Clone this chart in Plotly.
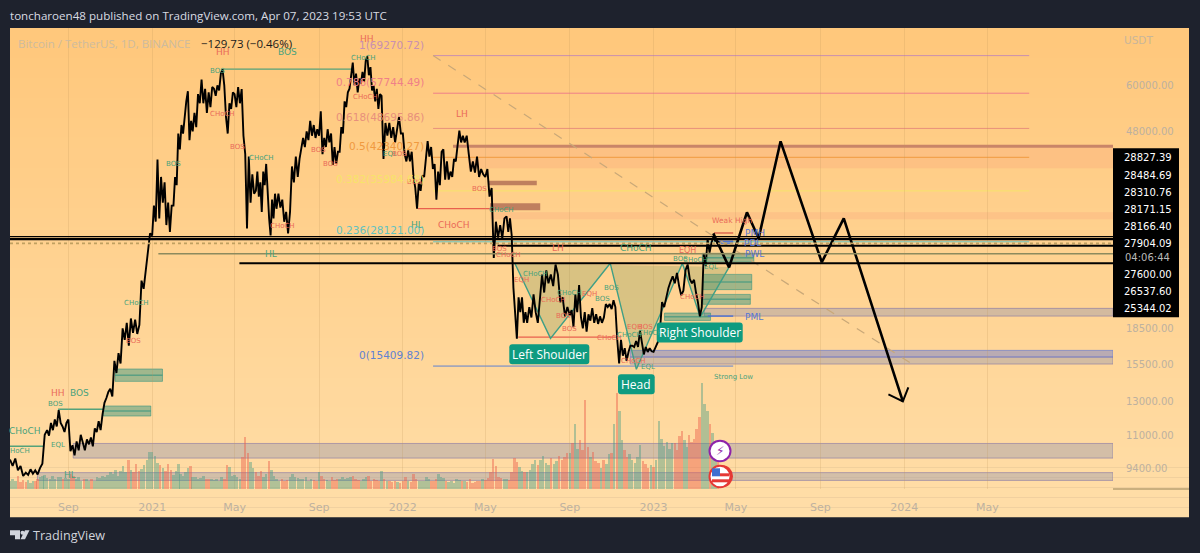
import numpy as np
import pandas as pd
import plotly.graph_objects as go

W, H = 1200, 553
PANEL_L, PANEL_R, PANEL_T, PANEL_B = 10, 1189, 27.7, 517
PLOT_R, PLOT_B = 1113, 488.7

# ---- data ----
chart_start, chart_end = "2020-06-08", "2024-10-31"
y_ticks = [60000, 48000, 18500, 15500, 13000, 11000, 9400]
x_ticks = ["2020-09-01", "2021-01-01", "2021-05-01", "2021-09-01", "2022-01-01", "2022-05-01",
           "2022-09-01", "2023-01-01", "2023-05-01", "2023-09-01", "2024-01-01", "2024-05-01"]
x_tick_text = ["Sep", "2021", "May", "Sep", "2022", "May", "Sep", "2023", "May", "Sep", "2024", "May"]

month_starts = ["2020-06-08", "2020-07-01", "2020-08-01", "2020-09-01", "2020-10-01", "2020-11-01", "2020-12-01",
                "2021-01-01", "2021-02-01", "2021-03-01", "2021-04-01", "2021-05-01", "2021-06-01", "2021-07-01",
                "2021-08-01", "2021-09-01", "2021-10-01", "2021-11-01", "2021-12-01", "2022-01-01", "2022-02-01",
                "2022-03-01", "2022-04-01", "2022-05-01", "2022-06-01", "2022-07-01", "2022-08-01", "2022-09-01",
                "2022-10-01", "2022-11-01", "2022-12-01", "2023-01-01", "2023-02-01", "2023-03-01", "2023-04-01",
                "2023-04-08"]
price_by_month = [
    [9800, 9500, 9850, 9300, 9500, 9050],
    [9200, 9100, 9350, 9150, 9300, 9120, 9400, 9600, 11050],
    [11300, 11000, 11700, 11300, 11900, 11500, 12450, 11700, 11500, 11200, 11700],
    [11900, 10200, 10500, 10000, 10700, 10250, 11050, 10700, 10250, 10800],
    [10550, 10900, 10450, 11400, 11200, 11800, 11300, 12200, 12900, 13200, 13600],
    [13800, 13300, 15800, 14900, 16400, 15600, 18500, 17500, 19000, 17000],
    [19400, 18100, 19300, 18000, 18800, 23300, 22400, 24300, 26500, 29300],
    [29000, 33500, 31000, 41900, 31500, 38500, 34000, 37500, 30500, 34000, 29500, 33500],
    [33500, 38500, 37000, 47500, 44000, 49500, 47500, 52500, 55500, 58300, 46000, 50500],
    [48000, 52500, 49000, 57500, 55000, 61700, 55000, 59000, 52500, 58000, 54000, 59500],
    [59000, 57000, 60000, 58500, 63500, 64800, 60000, 51500, 47500, 55000, 53500, 58000],
    [57500, 54000, 59500, 55000, 58900, 47000, 43000, 30000, 42500, 34000, 39000, 35500],
    [36000, 39500, 35000, 37500, 32500, 39500, 37000, 41000, 34500, 31500, 29000, 34500, 31500, 35500],
    [33000, 35500, 33200, 34500, 31000, 32500, 29300, 32500, 40500, 37500, 42500],
    [38500, 42000, 44500, 46500, 44500, 48000, 46000, 50500, 47000, 49500, 46500, 48500],
    [47000, 52900, 43000, 46500, 44500, 48500, 45500, 47500, 40800, 44500, 41000, 43500],
    [43500, 49000, 47500, 55500, 54000, 58000, 59000, 62500, 67000, 60000, 63500, 58000, 62000],
    [60500, 64000, 61000, 67500, 69000, 63000, 65500, 58500, 60000, 55500, 59000, 53500, 57500],
    [57000, 42000, 50000, 47000, 50000, 46500, 49000, 45500, 48500, 51500, 47500],
    [47500, 43000, 41500, 43800, 41500, 43500, 38500, 36500, 33000, 37500, 36000, 38800],
    [38500, 42000, 45800, 42500, 44500, 40000, 41000, 34500, 39500, 37000, 43500],
    [44000, 38000, 41500, 38000, 39500, 38500, 42000, 41500, 44800, 48200, 45500, 47000],
    [45500, 47000, 43000, 39500, 41500, 39300, 42500, 38500, 40000, 39000],
    [38500, 40000, 35000, 36500, 26000, 31000, 28700, 30500, 28600, 31500],
    [31800, 29500, 31500, 29000, 22500, 20000, 17600, 21500, 20000, 21500, 19000, 20000],
    [19000, 20500, 19500, 21800, 20000, 19000, 21500, 24000, 22000, 24500],
    [23000, 24000, 22700, 25200, 24000, 21000, 21500, 19600, 20500],
    [19700, 20200, 18600, 21800, 20000, 22800, 19500, 18500, 20000, 18200, 19800],
    [19200, 20400, 19000, 19800, 18900, 19600, 19000, 19500, 20800, 20500, 20800],
    [20300, 21200, 20500, 17500, 15600, 17500, 16200, 16800, 15800, 16500, 17000],
    [17000, 16900, 17400, 16900, 18300, 17200, 16300, 16900, 16500, 16800, 16550],
    [16500, 16900, 17300, 18300, 21000, 20500, 21500, 22500, 23200, 23800],
    [23000, 24200, 22700, 21700, 22200, 24500, 25200, 23500, 23000],
    [23400, 22000, 21000, 19600, 20500, 26500, 25000, 28500, 26700, 28000, 28800],
    [28200, 28500, 27900, 28200, 27904],
]
volume_by_month = [
    [55, 70, 60, 95, 50, 65],
    [50, 65, 45, 60, 55, 70, 85, 95, 100],
    [80, 70, 95, 75, 85, 90, 70, 80],
    [75, 105, 95, 70, 85, 60, 75, 70],
    [55, 70, 60, 85, 80, 95, 85, 100],
    [120, 110, 140, 95, 130, 165, 120, 210],
    [140, 120, 180, 130, 145, 170, 210, 265],
    [265, 240, 190, 170, 150, 130, 180, 140],
    [100, 130, 180, 105, 95, 120, 150, 165],
    [85, 90, 75, 80, 95, 70, 75, 70],
    [65, 70, 60, 85, 75, 170, 155, 95],
    [100, 90, 75, 230, 375, 260, 195, 150],
    [120, 95, 130, 85, 110, 200, 135, 95],
    [75, 60, 70, 55, 65, 85, 110, 90],
    [80, 75, 70, 85, 60, 70, 65, 60],
    [120, 95, 70, 65, 60, 85, 65, 70],
    [75, 85, 70, 80, 90, 95, 75, 65],
    [60, 70, 85, 95, 60, 70, 65, 55],
    [130, 75, 60, 55, 50, 60, 50, 45],
    [55, 85, 60, 50, 110, 70, 60, 55],
    [60, 85, 70, 55, 60, 75, 105, 85],
    [80, 55, 50, 60, 45, 70, 65, 55],
    [55, 50, 70, 45, 50, 60, 55, 70],
    [65, 80, 125, 216, 165, 90, 80, 75],
    [70, 65, 120, 220, 195, 160, 130, 120],
    [125, 140, 180, 210, 170, 210, 240, 190],
    [170, 220, 180, 200, 240, 210, 230, 260],
    [260, 330, 470, 290, 350, 280, 640, 300],
    [230, 270, 200, 190, 150, 210, 180, 250],
    [260, 470, 690, 560, 350, 280, 230, 250],
    [210, 190, 230, 320, 200, 180, 150, 170],
    [160, 210, 490, 360, 310, 340, 290, 330],
    [330, 280, 380, 420, 350, 300, 390, 340],
    [360, 430, 520, 760, 610, 560, 470, 400],
    [330, 300],
]

pattern_dates = ["2022-06-13", "2022-08-04", "2022-10-30", "2022-12-07", "2023-02-12", "2023-03-10", "2023-04-21"]
pattern_prices = [25344, 17620, 25344, 15170, 25344, 19530, 24890]
forecast_dates = ["2023-03-29", "2023-04-21", "2023-05-17", "2023-06-03", "2023-07-05", "2023-09-03", "2023-10-05", "2023-12-30"]
forecast_prices = [29300, 24850, 32440, 28600, 45750, 25470, 31510, 12990]
arrow_dates = ["2023-12-09", "2023-12-30", "2024-01-07"]
arrow_prices = [13430, 12990, 13900]
trend_dates = ["2022-02-14", "2024-01-17"]
trend_prices = [69270.72, 15409.82]

fib_prices = [69270.72, 57744.49, 48695.86, 42340.27, 35984.68, 28121.00, 15409.82]
fib_names = ["1", "0.786", "0.618", "0.5", "0.382", "0.236", "0"]
fib_colors = ["#c98fb0", "#ef8088", "#e8907c", "#f09a40", "#f7e36a", "#63c2c0", "#5f82d2"]
fib_ends = ["2024-07-01"] * 6 + ["2023-04-27"]
fib_start = "2022-02-14"

axis_box_values = ["28827.39", "28484.69", "28310.76", "28171.15", "28166.40", "27904.09", "04:06:44", "27600.00", "26537.60", "25344.02"]

gray_zones = [("2020-09-08", 9870, 10594), ("2020-07-18", 8860, 9199), ("2023-03-16", 19630, 20376), ("2022-11-28", 15563, 16097)]
blue_zones = [("2022-11-28", 16097, 16627)]
pink_zones = [("2022-04-06", 40140, 44440), ("2022-05-08", 31360, 32440)]
brown_zones = [("2022-05-05", "2022-07-15", 36970, 37780), ("2022-05-08", "2022-07-20", 32750, 33880)]
green_zones = [("2020-11-08", "2021-01-16", 14310, 15190), ("2020-10-22", "2020-12-30", 12100, 12700),
               ("2023-03-14", "2023-05-24", 22310, 24020), ("2023-03-14", "2023-05-22", 20780, 21800),
               ("2023-01-17", "2023-03-25", 19220, 19920), ("2023-03-13", "2023-05-27", 25500, 26600)]
struct_lines = [("2021-04-13", "2021-10-21", 64900, "#55a27a"), ("2020-08-17", "2020-10-22", 12500, "#55a27a"),
                (chart_start, "2020-07-27", 10450, "#55a27a"), ("2022-01-23", "2022-05-08", 33020, "#e8604e"),
                ("2022-06-18", "2022-11-09", 17730, "#e8604e"), ("2023-03-30", "2023-04-27", 29350, "#d9604e"),
                ("2023-03-21", "2023-04-27", 19630, "#4a6fd0"), ("2023-04-05", "2023-04-27", 28200, "#4a6fd0"),
                ("2023-04-05", "2023-04-27", 27950, "#4a6fd0")]
level_lines = [(chart_start, 28827.39, "#000000", 1.2, "solid"), (chart_start, 28484.69, "#000000", 2.4, "solid"),
               (chart_start, 27904.09, "#c0a060", 1.6, "dot"), ("2022-05-19", 27600.00, "#000000", 2, "solid"),
               ("2021-01-10", 26537.60, "#8c8a5e", 1.6, "solid"), ("2021-05-08", 25344.02, "#000000", 2, "solid")]

RED, GREEN, BLUE = "#ea6a58", "#4aa27c", "#5575d6"
labels = [
    ("HH", 223, 52, RED, 10), ("BOS", 287.5, 52, GREEN, 10), ("HH", 367, 39, RED, 10),
    ("CHoCH", 363, 58, GREEN, 8), ("BOS", 217, 71, GREEN, 8), ("CHoCH", 222, 113.7, RED, 8),
    ("CHoCH", 365, 97, RED, 8), ("LH", 461.7, 113.7, RED, 10), ("BOS", 237, 147, RED, 8),
    ("CHoCH", 261, 158, GREEN, 8), ("BOS", 318, 150, RED, 8), ("BOS", 330, 163.7, RED, 8),
    ("EQL", 390, 154, GREEN, 8), ("BOS", 399, 154, RED, 8), ("BOS", 173, 164, GREEN, 8),
    ("BOS", 414, 182, RED, 8), ("BOS", 479, 188.7, RED, 8), ("CHoCH", 282, 226, RED, 8),
    ("HL", 417, 225, GREEN, 10), ("CHoCH", 454, 225, RED, 10), ("HL", 270.7, 253.7, GREEN, 10),
    ("CHoCH", 136, 303, GREEN, 8), ("BOS", 133, 341, RED, 8), ("HH", 58, 392.5, RED, 10),
    ("BOS", 79, 392.5, GREEN, 10), ("BOS", 55, 403.7, GREEN, 8), ("CHoCH", 25, 430.7, GREEN, 10),
    ("HoCH", 20, 451, GREEN, 8), ("EQL", 58, 445, GREEN, 8), ("HL", 70, 475, GREEN, 10),
    ("CHoCH", 501.7, 210, GREEN, 8), ("BOS", 499, 249, RED, 8), ("CHoCH", 508, 254.7, RED, 8),
    ("LH", 558, 248, RED, 10), ("CHoCH", 636, 248, GREEN, 10), ("EQH", 521, 280, RED, 8),
    ("CHoCH", 535, 274, GREEN, 8), ("CHoCH", 553, 300, RED, 8), ("CHoCH", 569, 293, GREEN, 8),
    ("BOS", 563, 316, RED, 8), ("BOS", 569.7, 328.7, RED, 8), ("EQH", 589, 294, RED, 8),
    ("BOS", 611, 288, GREEN, 8), ("BOS", 602, 299, GREEN, 8), ("CHoCH", 609, 338, RED, 8),
    ("EQH", 634, 327, RED, 8), ("BOS", 645, 327, RED, 8), ("CHoCH", 629, 334.7, GREEN, 8),
    ("CHoCH", 650, 333, GREEN, 8), ("CHoCH", 633, 361, RED, 8), ("EQL", 648, 367, GREEN, 8),
    ("EQH", 687, 250.7, RED, 9), ("BOS", 680, 259, GREEN, 8), ("CHoCH", 695, 260, GREEN, 8),
    ("EQL", 710.7, 266.7, GREEN, 8), ("CHoCH", 692, 297, RED, 8), ("Weak High", 732, 220, RED, 8.5),
    ("PMH", 755, 233, BLUE, 10), ("PDL", 752, 243, BLUE, 10), ("PWL", 754, 253.7, BLUE, 10),
    ("PML", 754, 316.7, BLUE, 10), ("Strong Low", 733, 376.7, GREEN, 8),
]
callouts = [("Left Shoulder", 509.3, 344, 589.3, 364), ("Head", 618, 374, 654.7, 394), ("Right Shoulder", 656.7, 322.3, 742.7, 342.3)]

# ---- build series ----
def spread(blocks):
    xs, ys = [], []
    for i, vals in enumerate(blocks):
        a, b = pd.Timestamp(month_starts[i]), pd.Timestamp(month_starts[i + 1])
        for k, v in enumerate(vals):
            xs.append(a + (b - a) * (k / len(vals)))
            ys.append(v)
    return xs, ys

price_x, price_y = spread(price_by_month)
vol_x, vol_y = spread(volume_by_month)
px_ns = np.array([t.value for t in price_x], dtype=float)
py = np.array(price_y, dtype=float)
vol_colors = []
for t in vol_x:
    i = int(np.clip(np.searchsorted(px_ns, t.value), 2, len(py) - 1))
    vol_colors.append("rgba(70,155,130,0.42)" if py[i] >= py[i - 2] else "rgba(235,95,75,0.45)")

# pixel position in the window -> paper fraction of the plot area
fx = lambda x: (x - PANEL_L) / (PLOT_R - PANEL_L)
fy = lambda y: (PLOT_B - y) / (PLOT_B - PANEL_T)

fig = go.Figure()
vol_axis_max = 7.2 * (PLOT_B - PANEL_T)
fig.add_trace(go.Bar(x=vol_x, y=vol_y, yaxis="y2", marker=dict(color=vol_colors, line_width=0), width=3.6 * 86400000, hoverinfo="skip"))
fig.add_trace(go.Scatter(x=pattern_dates + pattern_dates[:1], y=pattern_prices + pattern_prices[:1], mode="none", fill="toself",
                         fillcolor="rgba(120,150,90,0.28)", hoverinfo="skip"))
fig.add_trace(go.Scatter(x=pattern_dates, y=pattern_prices, mode="lines", line=dict(color="#3f9f86", width=1.4), hoverinfo="skip"))
fig.add_trace(go.Scatter(x=trend_dates, y=trend_prices, mode="lines", line=dict(color="#c9a878", width=1.2, dash="dash"), hoverinfo="skip"))
fig.add_trace(go.Scatter(x=price_x, y=price_y, mode="lines", line=dict(color="#000000", width=1.9), hoverinfo="skip"))
fig.add_trace(go.Scatter(x=forecast_dates, y=forecast_prices, mode="lines", line=dict(color="#000000", width=2.6), hoverinfo="skip"))
fig.add_trace(go.Scatter(x=arrow_dates, y=arrow_prices, mode="lines", line=dict(color="#000000", width=2), hoverinfo="skip"))

shapes = []
top, bot = np.array([255, 200, 124]), np.array([255, 222, 168])
n = 49
for i in range(n):
    c = top + (bot - top) * i / (n - 1)
    y0 = PANEL_T + (PANEL_B - PANEL_T) * i / n
    y1 = PANEL_T + (PANEL_B - PANEL_T) * (i + 1) / n + 0.5
    shapes.append(dict(type="rect", xref="paper", yref="paper", x0=fx(PANEL_L), x1=fx(PANEL_R), y0=fy(y0), y1=fy(min(y1, PANEL_B)),
                       fillcolor="rgb(%d,%d,%d)" % tuple(c), line_width=0, layer="below"))

def band(x0, x1, lo, hi, fill, line=None, lw=1, layer="below"):
    shapes.append(dict(type="rect", xref="x", yref="y", x0=x0, x1=x1, y0=lo, y1=hi, fillcolor=fill,
                       line=dict(color=line or "rgba(0,0,0,0)", width=lw if line else 0), layer=layer))

def hline(x0, x1, p, color, width=1, dash="solid", layer="below"):
    shapes.append(dict(type="line", xref="x", yref="y", x0=x0, x1=x1, y0=p, y1=p, line=dict(color=color, width=width, dash=dash), layer=layer))

for a, lo, hi in gray_zones:
    band(a, chart_end, lo, hi, "rgba(150,150,175,0.42)", "rgba(140,125,165,0.65)")
for a, lo, hi in blue_zones:
    band(a, chart_end, lo, hi, "rgba(100,120,210,0.45)", "rgba(100,120,210,0.6)")
for a, lo, hi in pink_zones:
    band(a, chart_end, lo, hi, "rgba(245,150,120,0.22)")
hline("2022-03-15", chart_end, 44650, "#c98568", 3)
for a, b, lo, hi in brown_zones:
    band(a, b, lo, hi, "rgba(170,100,80,0.75)")
for a, b, lo, hi in green_zones:
    band(a, b, lo, hi, "rgba(45,145,125,0.45)", "rgba(45,145,125,0.55)")
    hline(a, b, (lo * hi) ** 0.5, "rgba(45,145,125,0.6)", 1.5)
for p, c, e in zip(fib_prices, fib_colors, fib_ends):
    hline(fib_start, e, p, c, 1)
for a, b, p, c in struct_lines:
    hline(a, b, p, c, 1.4)
for a, p, c, w, d in level_lines:
    hline(a, chart_end, p, c, w, d, layer="above")

shapes.append(dict(type="line", xref="paper", yref="paper", x0=fx(PLOT_R), x1=fx(PANEL_R), y0=fy(PLOT_B), y1=fy(PLOT_B),
                   line=dict(color="#b89f70", width=1.5), layer="above"))
shapes.append(dict(type="rect", xref="paper", yref="paper", x0=fx(PLOT_R), x1=fx(1179), y0=fy(148), y1=fy(317), fillcolor="#000000", line_width=0, layer="above"))

def rounded(x0, y0, x1, y1, r=3):
    X0, X1, Y0, Y1 = fx(x0), fx(x1), fy(y0), fy(y1)
    rx = fx(x0 + r) - X0
    ry = Y0 - fy(y0 + r)
    return (f"M{X0+rx},{Y0} L{X1-rx},{Y0} Q{X1},{Y0} {X1},{Y0-ry} L{X1},{Y1+ry} Q{X1},{Y1} {X1-rx},{Y1} "
            f"L{X0+rx},{Y1} Q{X0},{Y1} {X0},{Y1+ry} L{X0},{Y0-ry} Q{X0},{Y0} {X0+rx},{Y0} Z")

annotations = []
def text(t, x, y, color, size, anchor="center", font="DejaVu Sans", **kw):
    annotations.append(dict(text=t, x=fx(x), y=fy(y), xref="paper", yref="paper", showarrow=False, xanchor=anchor, yanchor="middle",
                            font=dict(color=color, size=size, family=font), xshift=0, borderpad=0, borderwidth=0, **kw))

for t, x, y, c, s in labels:
    text(t, x, y, c, s - 1)
fib_y = [44.7, 82, 117, 146, 179, 230, 355]
for nm, p, c, yy in zip(fib_names, fib_prices, fib_colors, fib_y):
    text(f"{nm}({p:.2f})", 424, yy, c, 10.5, anchor="right")

for t, x0, y0, x1, y1 in callouts:
    shapes.append(dict(type="path", path=rounded(x0, y0, x1, y1), xref="paper", yref="paper", fillcolor="#0e9b80", line_width=0, layer="above"))
    text(t, (x0 + x1) / 2, (y0 + y1) / 2, "#ffffff", 12, font="Open Sans")

ys_box = [157.3, 174.7, 192, 209.3, 226, 243, 257.3, 274, 291.3, 308]
for v, yy in zip(axis_box_values, ys_box):
    text(v, 1147.5, yy, "#ffffff" if ":" not in v else "#b8b8b8", 10)

text("toncharoen48 published on TradingView.com, Apr 07, 2023 19:53 UTC", 10, 15, "#d8dbe2", 11.6, anchor="left", font="Open Sans")
text("Bitcoin / TetherUS, 1D, BINANCE", 18, 43, "#cdbb9f", 11.5, anchor="left", font="Open Sans")
text("\u2212129.73 (\u22120.46%)", 201, 43, "#1a1a1a", 11.5, anchor="left", font="Open Sans")
text("USDT", 1124, 40, "#c9b69a", 10.5, anchor="left")
text("TradingView", 33, 535, "#d1d4dc", 12.6, anchor="left", font="Open Sans")

def pth(d):
    shapes.append(dict(type="path", path=d, xref="paper", yref="paper", fillcolor="#d1d4dc", line_width=0, layer="above"))
def P(*pts):
    return "M" + " L".join(f"{fx(a)},{fy(b)}" for a, b in pts) + " Z"
pth(P((10, 530), (20, 530), (20, 539), (15, 539), (15, 535), (10, 535)))
pth(P((25, 530), (29.5, 530), (25, 539), (20.5, 539)))
def rect(x0, y0, x1, y1, color):
    shapes.append(dict(type="rect", xref="paper", yref="paper", x0=fx(x0), x1=fx(x1), y0=fy(y0), y1=fy(y1), fillcolor=color, line_width=0, layer="above"))
def circ(x0, y0, x1, y1, color, line=None):
    shapes.append(dict(type="circle", xref="paper", yref="paper", x0=fx(x0), x1=fx(x1), y0=fy(y0), y1=fy(y1), fillcolor=color,
                       line=dict(color=line, width=2) if line else dict(width=0), layer="above"))
circ(20.5, 530.5, 24.5, 534.5, "#d1d4dc")

circ(709.5, 440.5, 730.5, 461, "#ffffff", "#8e24aa")
text("\u26a1", 720, 450.7, "#8e24aa", 12)
circ(712, 465, 733, 487, "#e53935")
circ(709.5, 465.5, 730.5, 487, "#ffffff", "#e53935")
rect(712, 468, 720, 476, "#3f6fd0")
rect(720, 473, 729, 476, "#e53935")
rect(712, 479, 729, 482, "#e53935")

fig.update_layout(
    width=W, height=H, autosize=False, showlegend=False,
    paper_bgcolor="#1e222d", plot_bgcolor="rgba(0,0,0,0)",
    margin=dict(l=PANEL_L, r=W - PLOT_R, t=PANEL_T, b=H - PLOT_B, pad=0),
    bargap=0, barmode="overlay",
    xaxis=dict(type="date", range=[chart_start, chart_end], tickmode="array", tickvals=x_ticks, ticktext=x_tick_text,
               showgrid=True, gridcolor="rgba(190,150,90,0.22)", gridwidth=1, zeroline=False, showline=False,
               ticks="outside", ticklen=8, tickcolor="rgba(0,0,0,0)", tickfont=dict(color="#bdb1a0", size=11, family="DejaVu Sans")),
    yaxis=dict(type="log", range=[np.log10(8498), np.log10(79180)], side="right", tickmode="array", tickvals=y_ticks,
               ticktext=[f"{v:.2f}" for v in y_ticks], showgrid=False, zeroline=False, showline=False,
               ticks="outside", ticklen=10, tickcolor="rgba(0,0,0,0)", tickfont=dict(color="#bdb1a0", size=10, family="DejaVu Sans")),
    yaxis2=dict(overlaying="y", range=[0, vol_axis_max], visible=False),
    shapes=shapes, annotations=annotations,
)
fig.write_html("out.html", config=dict(displayModeBar=False),
               post_script="document.body.style.margin='0';document.body.style.overflow='hidden';")
